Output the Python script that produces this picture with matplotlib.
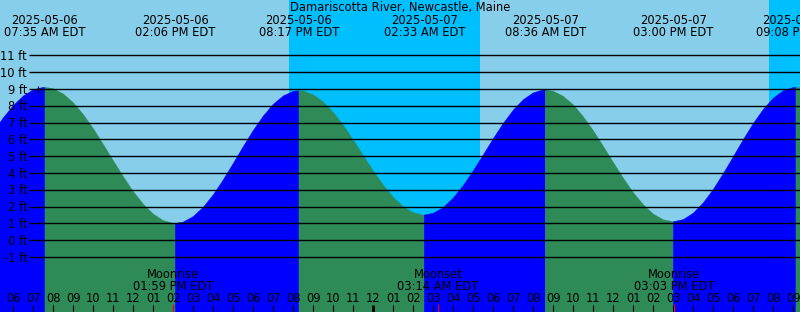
import numpy as np
import matplotlib.pyplot as plt

# time axis: hours since 2025-05-06 00:00 EDT
hours = np.arange(5.0, 46.0, 0.5)
heights = [6.43, 7.28, 8.01, 8.58, 8.95, 9.10, 9.02, 8.71, 8.19, 7.49,
           6.65, 5.71, 4.74, 3.79, 2.90, 2.15, 1.56, 1.17, 1.01, 1.08,
           1.41, 1.96, 2.70, 3.59, 4.57, 5.57, 6.53, 7.39, 8.09, 8.59,
           8.86, 8.88, 8.66, 8.23, 7.61, 6.84, 5.97, 5.04, 4.13, 3.29,
           2.56, 2.00, 1.64, 1.50, 1.60, 1.94, 2.51, 3.25, 4.13, 5.08,
           6.04, 6.95, 7.74, 8.36, 8.77, 8.95, 8.87, 8.57, 8.06, 7.36,
           6.53, 5.60, 4.64, 3.70, 2.84, 2.12, 1.56, 1.22, 1.10, 1.23,
           1.61, 2.22, 3.02, 3.96, 4.96, 5.98, 6.94, 7.78, 8.45, 8.89,
           9.09, 9.04]

ext_time = [7.583, 14.1, 20.283, 26.55, 32.6, 39.0, 45.133]
ext_height = [9.1, 1.0, 8.9, 1.5, 8.95, 1.1, 9.1]
ext_date = ["2025-05-06", "2025-05-06", "2025-05-06", "2025-05-07",
            "2025-05-07", "2025-05-07", "2025-05-07"]
ext_clock = ["07:35 AM EDT", "02:06 PM EDT", "08:17 PM EDT", "02:33 AM EDT",
             "08:36 AM EDT", "03:00 PM EDT", "09:08 PM EDT"]

moon_time = [13.983, 27.233, 39.05]
moon_kind = ["Moonrise", "Moonset", "Moonrise"]
moon_clock = ["01:59 PM EDT", "03:14 AM EDT", "03:03 PM EDT"]

night_start = [19.785, 43.785]
night_end = [29.335, 46.0]

ft_levels = list(range(-1, 12))
now_time = 7.22

day_col = "#87CEEB"
night_col = "#00BFFF"
rise_col = "#0000FF"
fall_col = "#2E8B57"
fs = 8.3

fig = plt.figure(figsize=(8, 3.12), dpi=100)
ax = fig.add_axes([0, 0, 1, 1])
ax.set_facecolor(day_col)
ax.set_xlim(5.335, 45.335)
ax.set_ylim(-4.27, 14.30)
ax.axis("off")
ax.add_patch(plt.Rectangle((0, 0), 1, 1, transform=ax.transAxes, color=day_col, zorder=0))

for s, e in zip(night_start, night_end):
    ax.axvspan(s, e, color=night_col, lw=0, zorder=1)

t = np.concatenate([hours, ext_time])
h = np.concatenate([heights, ext_height])
order = np.argsort(t)
t, h = t[order], h[order]

bounds = [hours[0]] + ext_time + [hours[-1]]
for a, b in zip(bounds[:-1], bounds[1:]):
    m = (t >= a) & (t <= b)
    ts, hs = t[m], h[m]
    col = rise_col if hs[-1] > hs[0] else fall_col
    ax.fill_between(ts, hs, -10, color=col, lw=0.3, ec=col, zorder=2)

# depth grid and labels
yt = ax.get_yaxis_transform()
ax.hlines(ft_levels, 29 / 800, 1, transform=yt, color="black", lw=1.0, zorder=3)
for f in ft_levels:
    ax.text(27 / 800, f - 0.27, f"{f} ft", transform=yt, ha="right", va="baseline",
            fontsize=fs, zorder=4)
ax.vlines(now_time, 8.77, 9.2, color="black", lw=0.8, zorder=4)

# title and tide extremes
ax.text(0.5, (312 - 10.5) / 312, "Damariscotta River, Newcastle, Maine",
        transform=ax.transAxes, ha="center", va="baseline", fontsize=fs, zorder=5)
xt = ax.get_xaxis_transform()
for tt, d, c in zip(ext_time, ext_date, ext_clock):
    ax.text(tt, (312 - 24) / 312, d, transform=xt, ha="center", va="baseline", fontsize=fs, zorder=5)
    ax.text(tt, (312 - 36.5) / 312, c, transform=xt, ha="center", va="baseline", fontsize=fs, zorder=5)

# hour ticks along the bottom
tick_hours = np.arange(6, 46)
for th in tick_hours:
    lab = f"{(th - 1) % 12 + 1:02d}"
    ax.text(th, (312 - 301.5) / 312, lab, transform=xt, ha="center", va="baseline", fontsize=fs, zorder=5)
    ax.vlines(th, 0, 7 / 312, transform=xt, color="black", lw=2.0 if th == 24 else 0.8, zorder=5)

for mt, k, c in zip(moon_time, moon_kind, moon_clock):
    ax.text(mt, (312 - 278.3) / 312, k, transform=xt, ha="center", va="baseline", fontsize=fs, zorder=5)
    ax.text(mt, (312 - 289.5) / 312, c, transform=xt, ha="center", va="baseline", fontsize=fs, zorder=5)
    ax.vlines(mt, 0, 8 / 312, transform=xt, color="red", lw=0.8, zorder=6)

fig.savefig("out.png", dpi=100)
